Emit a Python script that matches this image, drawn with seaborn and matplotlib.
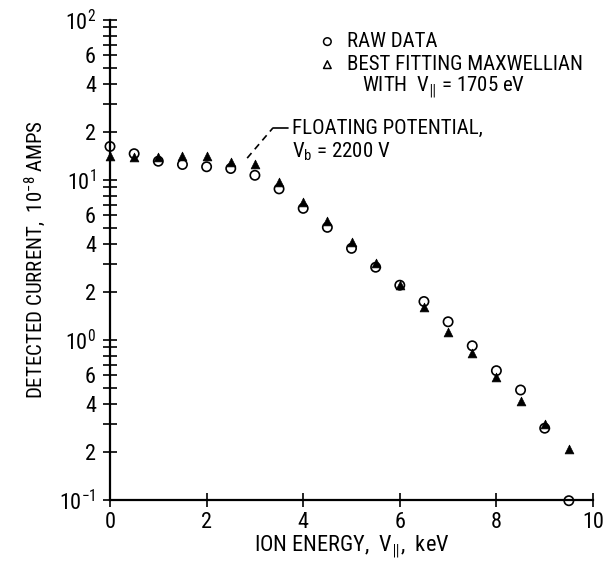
import numpy as np
import pandas as pd
import matplotlib
matplotlib.use("Agg")
import matplotlib.pyplot as plt
from matplotlib.ticker import FixedLocator, FuncFormatter
import seaborn as sns

# ---- data ----
energy_kev = [0.0, 0.5, 1.0, 1.5, 2.0, 2.5, 3.0, 3.5, 4.0, 4.5, 5.0, 5.5,
              6.0, 6.5, 7.0, 7.5, 8.0, 8.5, 9.0, 9.5]
raw_current = [16.2, 14.6, 13.1, 12.5, 12.1, 11.8, 10.7, 8.8, 6.65, 5.06,
               3.74, 2.85, 2.2, 1.74, 1.30, 0.92, 0.643, 0.487, 0.281, 0.099]
fit_current = [14.1, 14.0, 14.0, 14.1, 14.1, 12.9, 12.5, 9.76, 7.32, 5.57,
               4.11, 3.04, 2.22, 1.60, 1.13, 0.826, 0.585, 0.416, 0.298, 0.208]
x_ticks = [0, 2, 4, 6, 8, 10]

sns.set_theme(style="ticks")
plt.rcParams['font.family'] = ['Roboto Condensed', 'Open Sans Condensed', 'DejaVu Sans']
plt.rcParams['mathtext.fontset'] = 'custom'
plt.rcParams['mathtext.rm'] = 'Roboto Condensed'
plt.rcParams['mathtext.it'] = 'Roboto Condensed'
plt.rcParams['mathtext.default'] = 'regular'

df = pd.DataFrame({"energy": energy_kev, "raw": raw_current, "fit": fit_current})

fig = plt.figure(figsize=(6.03, 5.61), dpi=100)
ax = fig.add_axes([110/603, 61/561, 483/603, 480/561])

sns.scatterplot(data=df, x="energy", y="fit", ax=ax, marker="^", s=40,
                color="black", edgecolor="black", linewidth=0.5, clip_on=False, zorder=3)
sns.scatterplot(data=df, x="energy", y="raw", ax=ax, marker="o", s=45,
                facecolor="none", edgecolor="black", linewidth=1.2, clip_on=False, zorder=4)

ax.set_yscale("log")
ax.set_xlim(0, 10)
ax.set_ylim(0.1, 100)

for s in ["top", "right"]:
    ax.spines[s].set_visible(False)
for s in ["left", "bottom"]:
    ax.spines[s].set_linewidth(1.6)
    ax.spines[s].set_color("black")

ax.set_xticks(x_ticks)
ax.set_xticklabels([str(t) for t in x_ticks])

major = [0.1, 1, 10, 100]
ax.yaxis.set_major_locator(FixedLocator(major))
ax.yaxis.set_major_formatter(FuncFormatter(lambda v, p: r"$10^{%d}$" % int(round(np.log10(v)))))
minor = [m * 10.0**e for e in (-1, 0, 1) for m in range(2, 10)]
ax.yaxis.set_minor_locator(FixedLocator(minor))
def minor_fmt(v, p):
    m = v / 10.0**np.floor(np.log10(v) + 1e-9)
    mi = int(round(m))
    return str(mi) if mi in (2, 4, 6) else ""
ax.yaxis.set_minor_formatter(FuncFormatter(minor_fmt))

ax.tick_params(axis="both", which="both", direction="inout", color="black",
               width=1.2, labelsize=16, labelcolor="black")
ax.tick_params(axis="y", which="both", length=10, pad=5)
ax.tick_params(axis="x", which="major", length=10, pad=4)

ax.set_xlabel(r"ION ENERGY,  $V_{\Vert}$,  keV", fontsize=16, color="black", labelpad=0)
ax.set_ylabel(r"DETECTED CURRENT,  $10^{-8}$ AMPS", fontsize=15, color="black", labelpad=8)

# legend-style entries
ax.scatter([0.45], [0.955], transform=ax.transAxes, marker="o", s=30,
           facecolor="none", edgecolor="black", linewidth=1.1, clip_on=False)
ax.scatter([0.45], [0.907], transform=ax.transAxes, marker="^", s=30,
           facecolor="none", edgecolor="black", linewidth=1.1, clip_on=False)
ax.text(0.49, 0.955, "RAW DATA", transform=ax.transAxes, fontsize=15,
        va="center", ha="left", color="black")
ax.text(0.49, 0.907, "BEST FITTING MAXWELLIAN", transform=ax.transAxes,
        fontsize=15, va="center", ha="left", color="black")
ax.text(0.522, 0.858, r"WITH  $V_{\Vert}$ = 1705 eV", transform=ax.transAxes,
        fontsize=15, va="center", ha="left", color="black")

# annotation with leader line
ax.text(3.77, 21.1, "FLOATING POTENTIAL,", fontsize=15, va="center", ha="left", color="black")
ax.text(3.77, 15.0, r"$V_b$ = 2200 V", fontsize=15, va="center", ha="left", color="black")
ax.plot([2.84, 3.37], [13.7, 21.1], ls=(0, (4, 3)), color="black", lw=1.2)
ax.plot([3.37, 3.69], [21.1, 21.1], ls="-", color="black", lw=1.2)

fig.savefig("out.png", dpi=100)
